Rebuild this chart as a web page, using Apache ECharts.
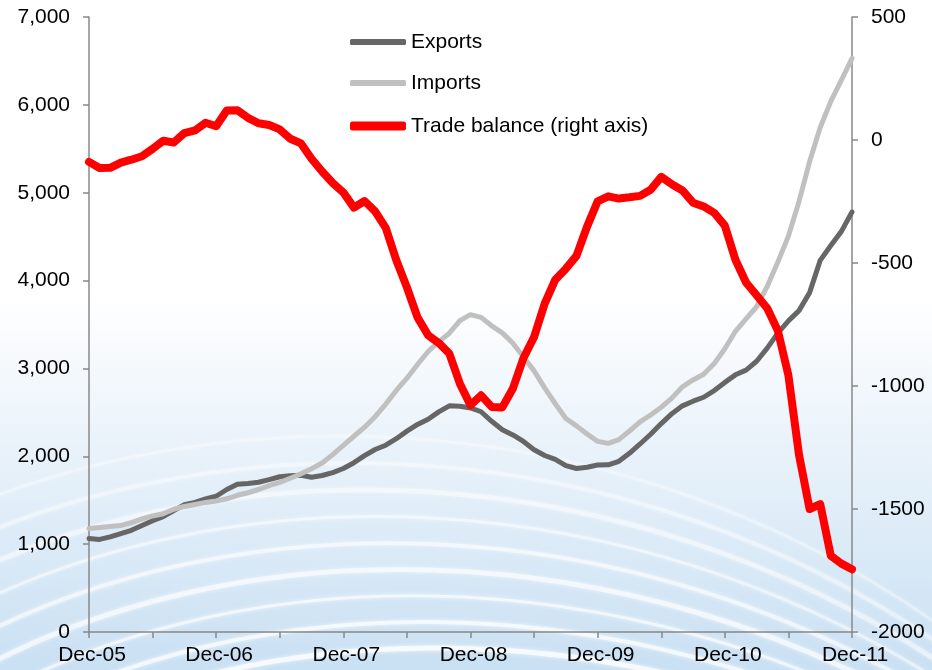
<!DOCTYPE html>
<html>
<head>
<meta charset="utf-8">
<script src="https://cdn.jsdelivr.net/npm/echarts@6/dist/echarts.min.js"></script>
<style>
  html, body { margin: 0; padding: 0; background: #fff; }
  #chart { width: 932px; height: 670px; }
</style>
</head>
<body>
<div id="chart"></div>
<script>
(function(){

// monthly, Dec-05 .. Dec-11
var monthNames = ['Jan','Feb','Mar','Apr','May','Jun','Jul','Aug','Sep','Oct','Nov','Dec']
var months = ['Dec-05']
for (var y = 6; y <= 11; y++) {
	for (var m = 0; m < 12; m++) {
		months.push(monthNames[m] + '-' + (y < 10 ? '0' + y : y))
	}
}

var exports = [1063, 1054, 1082, 1120, 1158, 1212, 1267, 1313, 1381, 1448, 1476, 1514,
	1545, 1622, 1682, 1690, 1705, 1735, 1767, 1779, 1784, 1762, 1781, 1815,
	1861, 1927, 2007, 2077, 2126, 2200, 2286, 2362, 2422, 2506, 2574, 2569,
	2550, 2507, 2398, 2303, 2243, 2169, 2075, 2009, 1964, 1893, 1861, 1876,
	1900, 1903, 1943, 2034, 2140, 2251, 2372, 2485, 2574, 2627, 2672, 2748,
	2841, 2927, 2981, 3082, 3231, 3402, 3541, 3658, 3863, 4230, 4400, 4560,
	4780]

var imports = [1178, 1190, 1201, 1211, 1245, 1288, 1321, 1346, 1397, 1429, 1451, 1475,
	1491, 1516, 1556, 1585, 1622, 1667, 1703, 1750, 1800, 1858, 1923, 2019,
	2124, 2228, 2331, 2451, 2594, 2749, 2889, 3044, 3193, 3302, 3401, 3544,
	3612, 3581, 3485, 3405, 3286, 3130, 2972, 2779, 2598, 2430, 2346, 2253,
	2170, 2147, 2190, 2288, 2391, 2470, 2558, 2662, 2791, 2869, 2934, 3055,
	3224, 3423, 3564, 3702, 3933, 4210, 4506, 4901, 5355, 5743, 6039, 6282,
	6530]

var tradeBalance = [-89, -114, -113, -92, -80, -66, -36, -3, -10, 28, 39, 70,
	56, 120, 121, 90, 68, 61, 43, 5, -14, -76, -128, -175,
	-213, -275, -248, -290, -357, -489, -599, -721, -794, -825, -868, -991,
	-1078, -1038, -1085, -1087, -1010, -886, -801, -665, -568, -523, -471, -352,
	-249, -229, -238, -233, -227, -202, -150, -180, -205, -255, -270, -296,
	-348, -487, -579, -631, -684, -775, -957, -1280, -1500, -1480, -1690, -1722,
	-1745]

var FONT = 'Liberation Sans, Arial, sans-serif'

function backdrop() {
	var els = [{
		type: 'rect', z: -100, silent: true,
		shape: {x: 0, y: 0, width: 932, height: 670},
		style: {fill: new echarts.graphic.LinearGradient(0, 0, 0, 1, [
			{offset: 0, color: '#ffffff'},
			{offset: 0.44, color: '#ffffff'},
			{offset: 0.62, color: '#eef5fb'},
			{offset: 1, color: '#c9e0f3'}
		])}
	}]
	// soft white swooshes in the lower half
	for (var k = 0; k < 9; k++) {
		var y0 = 440 + k * 26
		els.push({
			type: 'bezierCurve', z: -90, silent: true,
			shape: {x1: -40, y1: y0 + 70 + k * 8, cpx1: 220, cpy1: y0 - 40,
				cpx2: 620, cpy2: y0 - 50, x2: 960, y2: y0 + 200 - k * 8},
			style: {stroke: 'rgba(255,255,255,' + (0.3 + k * 0.05) + ')', lineWidth: 3 + (k % 3),
				fill: null, shadowColor: '#ffffff', shadowBlur: 4}
		})
	}
	return els
}

function legendItem(name, top, h) {
	return {
		data: [name], left: 350, top: top, padding: 0, orient: 'vertical',
		icon: 'roundRect', itemWidth: 56, itemHeight: h,
		textStyle: {fontFamily: FONT, fontSize: 21, color: '#000', lineHeight: 22},
		selectedMode: false
	}
}

function axisLine() {
	return {show: true, lineStyle: {color: '#888888', width: 1.5}}
}

var chart = echarts.init(document.getElementById('chart'), null, {renderer: 'canvas'})

chart.setOption({
	animation: false,
	graphic: backdrop(),
	legend: [
		legendItem('Exports', 31, 6),
		legendItem('Imports', 72, 6),
		legendItem('Trade balance (right axis)', 115, 9)
	],
	grid: {left: 89, right: 80, top: 17, bottom: 38, containLabel: false},
	xAxis: {
		type: 'category', boundaryGap: false, data: months,
		axisLine: axisLine(),
		axisTick: {show: true, length: 6, interval: function(i){ return i % 6 === 0 },
			lineStyle: {color: '#888888', width: 1.5}},
		axisLabel: {interval: function(i){ return i % 12 === 0 }, fontFamily: FONT, fontSize: 21,
			color: '#000', margin: 13, padding: [0, 0, 0, 6], showMaxLabel: true},
		splitLine: {show: false}
	},
	yAxis: [{
		type: 'value', min: 0, max: 7000, interval: 1000, position: 'left',
		axisLine: axisLine(),
		axisTick: {show: true, length: 6, lineStyle: {color: '#888888', width: 1.5}},
		axisLabel: {fontFamily: FONT, fontSize: 21, color: '#000', margin: 19,
			formatter: function(v){ return v.toLocaleString('en-US') }},
		splitLine: {show: false}
	}, {
		type: 'value', min: -2000, max: 500, interval: 500, position: 'right',
		axisLine: axisLine(),
		axisTick: {show: true, length: 6, lineStyle: {color: '#888888', width: 1.5}},
		axisLabel: {fontFamily: FONT, fontSize: 21, color: '#000', margin: 19,
			formatter: function(v){ return String(v) }},
		splitLine: {show: false}
	}],
	series: [{
		name: 'Exports', type: 'line', data: exports, yAxisIndex: 0,
		symbol: 'none', color: '#666666',
		lineStyle: {color: '#666666', width: 5, cap: 'round', join: 'round'}
	}, {
		name: 'Imports', type: 'line', data: imports, yAxisIndex: 0,
		symbol: 'none', color: '#c0c0c0',
		lineStyle: {color: '#c0c0c0', width: 5, cap: 'round', join: 'round'}
	}, {
		name: 'Trade balance (right axis)', type: 'line', data: tradeBalance, yAxisIndex: 1,
		symbol: 'none', color: '#ff0000',
		lineStyle: {color: '#ff0000', width: 8, cap: 'round', join: 'round'}
	}]
})

})()
</script>
</body>
</html>
